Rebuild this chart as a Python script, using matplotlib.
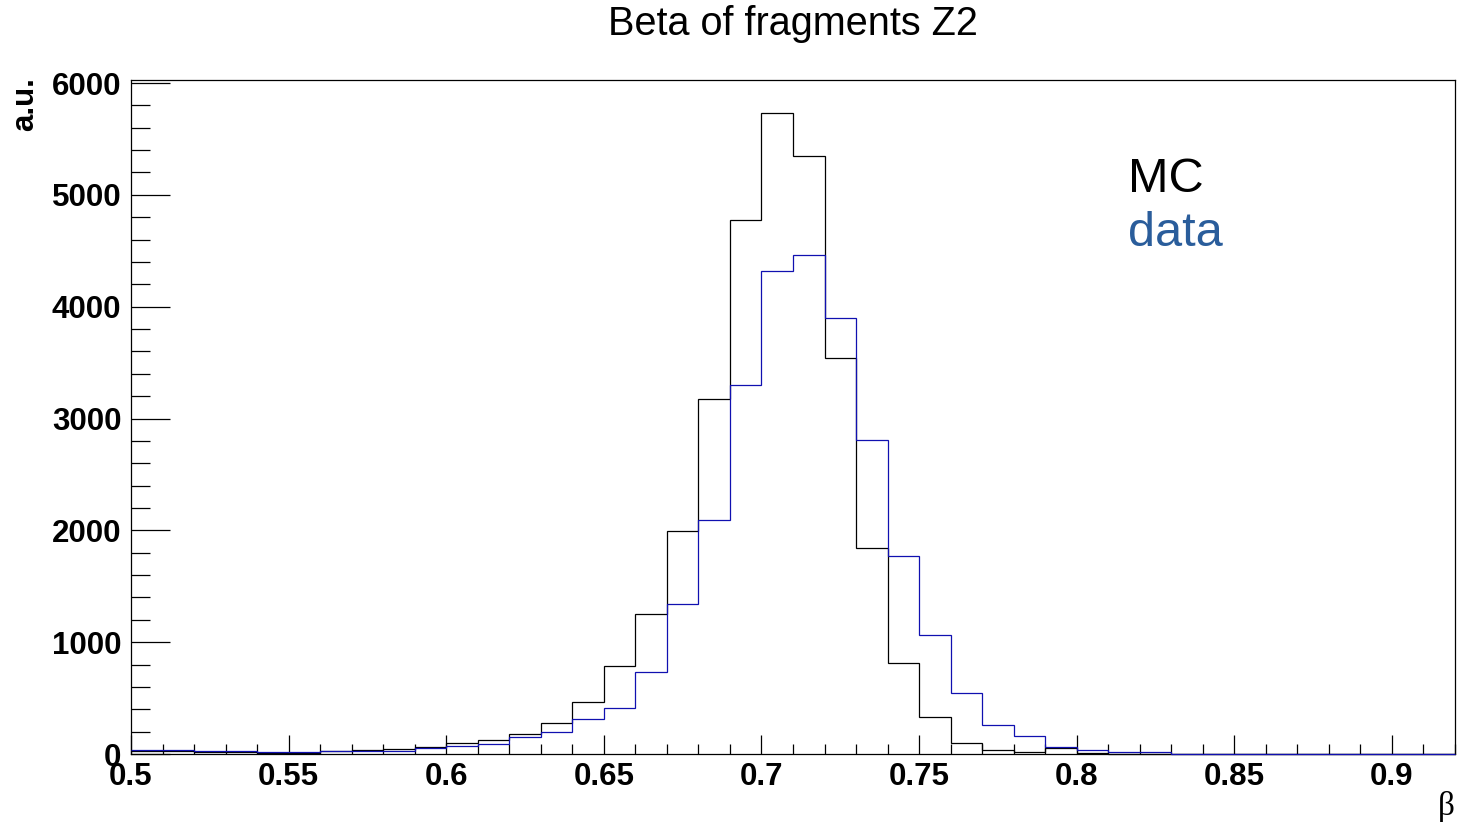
import numpy as np
import matplotlib
matplotlib.use('Agg')
from matplotlib import pyplot as plt
from matplotlib.ticker import MultipleLocator, FuncFormatter

# bin edges: 0.50 -> 0.92 in steps of 0.01
edges = np.round(np.arange(0.50, 0.9201, 0.01), 2)

mc = [25, 25, 20, 15, 10, 10, 24, 33, 42, 60,
      95, 122, 176, 274, 462, 788, 1253, 1994, 3178, 4772,
      5735, 5343, 3542, 1843, 815, 334, 101, 36, 18, 55,
      5, 0, 0, 0, 0, 0, 0, 0, 0, 0,
      0, 0]
data = [33, 33, 24, 24, 15, 15, 24, 24, 24, 51,
        69, 86, 149, 194, 316, 415, 737, 1342, 2095, 3302,
        4322, 4458, 3903, 2809, 1773, 1067, 547, 259, 161, 66,
        36, 18, 18, 0, 0, 0, 0, 0, 0, 0,
        0, 0]

plt.rcParams['font.family'] = ['Liberation Sans', 'DejaVu Sans']

fig = plt.figure(figsize=(14.6, 8.25), dpi=100)
ax = fig.add_axes([131/1460, 1-754/825, (1455-131)/1460, (754-80)/825])

ax.stairs(mc, edges, color='black', lw=0.9, baseline=None, zorder=3, clip_on=False)
ax.stairs(data, edges, color='#1010b0', lw=0.9, baseline=None, zorder=3, clip_on=False)

ax.set_xlim(0.5, 0.92)
ax.set_ylim(0, 6027)

ax.xaxis.set_major_locator(MultipleLocator(0.05))
ax.xaxis.set_minor_locator(MultipleLocator(0.01))
ax.yaxis.set_major_locator(MultipleLocator(1000))
ax.yaxis.set_minor_locator(MultipleLocator(200))
ax.xaxis.set_major_formatter(FuncFormatter(lambda v, p: '%g' % round(v, 2)))

ax.tick_params(axis='x', which='major', direction='in', length=14, width=0.9,
               labelsize=22.5, pad=6)
ax.tick_params(axis='x', which='minor', direction='in', length=7, width=0.9)
ax.tick_params(axis='y', which='major', direction='in', length=28, width=0.9,
               labelsize=22.5, pad=7)
ax.tick_params(axis='y', which='minor', direction='in', length=14, width=0.9)
for lab in ax.get_xticklabels() + ax.get_yticklabels():
    lab.set_fontweight('bold')
for s in ax.spines.values():
    s.set_linewidth(0.9)

fig.text(793/1460, 1-24/825, 'Beta of fragments Z2', ha='center', va='center', fontsize=28.5)
fig.text(25/1460, 1-104/825, 'a.u.', rotation=90, ha='center', va='center',
         fontsize=22.5, fontweight='bold')
fig.text(1446/1460, 1-806/825, 'β', ha='center', va='center', fontsize=24,
         family=['Liberation Serif', 'DejaVu Serif'])

ax.text(1128/1460, 1-179/825, 'MC', transform=fig.transFigure, ha='left',
        va='center', fontsize=35, color='black')
ax.text(1128/1460, 1-233/825, 'data', transform=fig.transFigure, ha='left',
        va='center', fontsize=35, color='#2a5d9b')

plt.savefig('out.png', dpi=100)
